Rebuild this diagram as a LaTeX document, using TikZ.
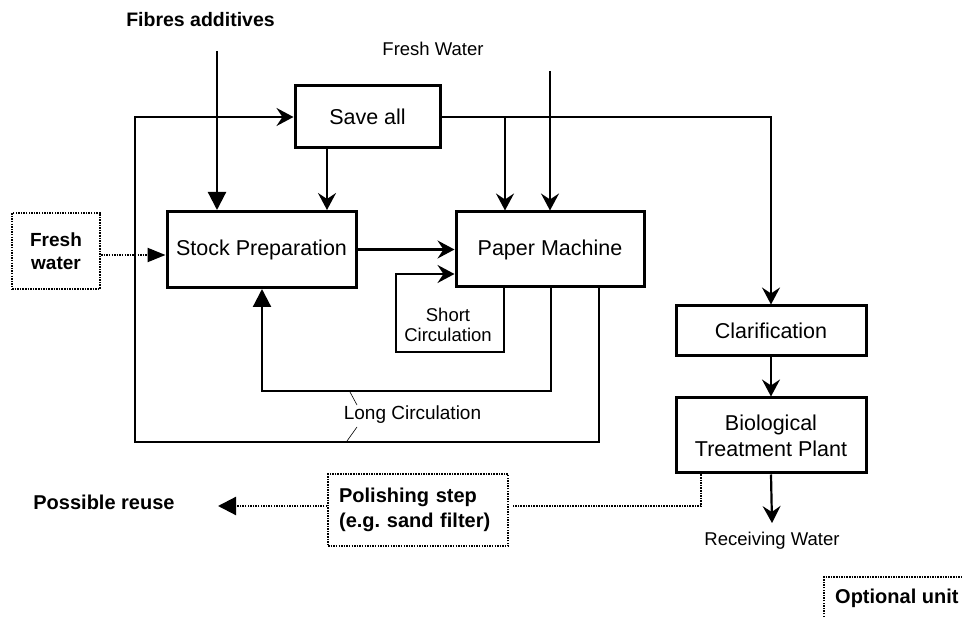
\documentclass[tikz,border=0pt]{standalone}
\usepackage{fontspec}
\setmainfont{Liberation Sans}
\usetikzlibrary{arrows.meta}
\begin{document}
\begin{tikzpicture}[x=1pt,y=-1pt,
 box/.style={draw, line width=3pt, inner sep=0pt, font=\fontsize{21.5}{26}\selectfont, align=center},
 conn/.style={line width=2.2pt},
 stl/.style={conn, -{Stealth[length=17pt,width=18pt,inset=6pt]}},
 tri/.style={conn, -{Triangle[length=18pt,width=18pt]}},
 ntri/.style={conn, -{Triangle[length=18pt,width=14pt]}},
 dotl/.style={line width=2.2pt, dash pattern=on 1.5pt off 1.1pt},
 lbl/.style={inner sep=0pt, font=\fontsize{18.5}{21}\selectfont, align=center},
 blbl/.style={inner sep=0pt, font=\bfseries\fontsize{20}{25}\selectfont, align=center},
 leader/.style={line width=0.6pt},
]
\useasboundingbox (0,0) rectangle (962,617);
\fill[white] (0,0) rectangle (962,617);

% boxes
\node[box, minimum width=145pt, minimum height=62pt] (save) at (367.5,117) {Save all};
\node[box, minimum width=189pt, minimum height=76pt] (stock) at (261.5,249.5) {Stock Preparation};
\node[box, minimum width=188pt, minimum height=75pt] (pm) at (550,249.5) {Paper Machine};
\node[box, minimum width=190pt, minimum height=50pt] (clar) at (771,331) {Clarification};
\node[box, minimum width=190pt, minimum height=75pt] (btp) at (771,435.5) {Biological\\Treatment Plant};
\node[dotl, draw, minimum width=88pt, minimum height=76pt, blbl, font=\bfseries\fontsize{19}{23}\selectfont] (fw) at (56,251) {Fresh\\water};
\node[dotl, draw, anchor=north west, minimum height=72pt, text width=158pt, inner xsep=11pt, inner ysep=0pt, align=left, font=\bfseries\fontsize{20}{25}\selectfont] (polish) at (327,473) {Polishing step\\(e.g.\ sand filter)};

% labels
\node[blbl, font=\bfseries\fontsize{19.5}{24}\selectfont] (fibres) at (200.5,20) {Fibres additives};
\node[lbl] (freshW) at (433,49) {Fresh Water};
\node[blbl] (reuse) at (104,502) {Possible reuse};
\node[lbl] (recv) at (772,541) {Receiving Water};
\node[lbl, font=\fontsize{18.5}{20.5}\selectfont] (shortc) at (448,325) {Short\\Circulation};
\node[lbl, font=\fontsize{19}{22}\selectfont] (longc) at (412.5,415) {Long Circulation};
\node[blbl, anchor=west] (opt) at (835,598) {Optional unit};
\draw[dotl] (824,617) -- (824,577) -- (962,577);

% coordinates
\coordinate (fibtop) at (217,51);
\coordinate (sd) at (327,148);
\coordinate (b1) at (505,117);
\coordinate (fwt) at (550,71);
\coordinate (sc) at (504,0);
\coordinate (inr) at (551,0);
\coordinate (inl) at (262,0);
\coordinate (outr) at (599,0);
\coordinate (outl) at (135,0);
\coordinate (fwy) at (0,255);
\coordinate (rw) at (772,523);
\coordinate (dx) at (701,0);
\coordinate (dy) at (0,506);
\coordinate (tip) at (218,506);

% connectors
\draw[tri] (fibtop) -- (fibtop |- stock.north);
\draw[stl] (sd) -- (sd |- stock.north);
\draw[stl] (stock.east) -- (pm.west);
\draw[conn] (save.east) -- (b1);
\draw[stl] (b1) -| (clar.north);
\draw[stl] (b1) -- (b1 |- pm.north);
\draw[stl] (fwt) -- (fwt |- pm.north);
\draw[stl] (sc |- pm.south) -- (504,352) -- (396,352) -- (396,274) -- (pm.west |- 0,274);
\draw[tri] (inr |- pm.south) -- (551,391) -- (262,391) -- (inl |- stock.south);
\draw[stl] (outr |- pm.south) -- (599,442) -- (135,442) -- (135,117) -- (save.west);
\draw[ntri, dash pattern=on 1.5pt off 1.1pt] (fw.east |- fwy) -- (stock.west |- fwy);
\draw[stl] (clar.south) -- (btp.north);
\draw[stl] (btp.south) -- (rw);
\draw[dotl, shorten >=4pt] (dx |- btp.south) -- (dx |- dy) -- (polish.east |- dy);
\draw[tri, dash pattern=on 1.5pt off 1.1pt] (polish.west |- dy) -- (tip);

% leader lines
\draw[leader] (350,392) -- (357,405);
\draw[leader] (357,427) -- (347,441);
\end{tikzpicture}
\end{document}
